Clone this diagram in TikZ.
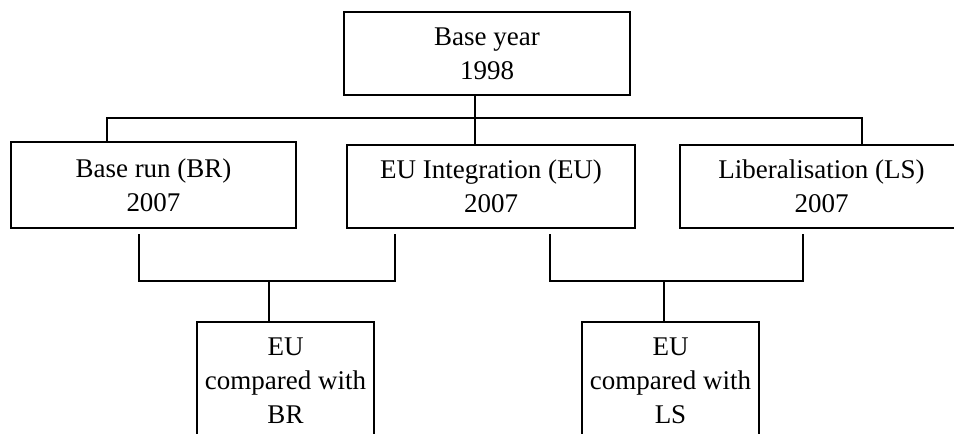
\documentclass[tikz,border=0pt]{standalone}
\usepackage{fontspec}
\setmainfont{Liberation Serif}
\begin{document}
\begin{tikzpicture}[x=1pt,y=-1pt,
  box/.style={draw=black,line width=2.5pt,rectangle,align=center,inner sep=0pt,
    font=\fontsize{27}{34}\selectfont},
  conn/.style={draw=black,line width=2.5pt}]
\useasboundingbox (0,0) rectangle (954,434);
\clip (0,0) rectangle (954,434);
\node[box,minimum width=286pt,minimum height=83pt] (top) at (487,53.5) {Base year\\1998};
\node[box,minimum width=285pt,minimum height=86pt] (br) at (153.5,185) {Base run (BR)\\2007};
\node[box,minimum width=288pt,minimum height=83pt] (eu) at (491,186.5) {EU Integration (EU)\\2007};
\node[box,minimum width=283pt,minimum height=83pt] (ls) at (821.5,186.5) {Liberalisation (LS)\\2007};
\node[box,minimum width=177pt,minimum height=118pt] (cbr) at (285.5,381) {EU\\compared with\\BR};
\node[box,minimum width=177pt,minimum height=118pt] (cls) at (670.5,381) {EU\\compared with\\LS};
\coordinate (busA) at (0,118);
\coordinate (busB) at (0,281);
% top connectors
\draw[conn] ([xshift=-12pt]top.south) -- ([xshift=-12pt]top.south |- eu.north);
\draw[conn] ([xshift=-46.5pt]br.north) -- ([xshift=-46.5pt]br.north |- busA)
  -- ([xshift=40.5pt]ls.north |- busA) -- ([xshift=40.5pt]ls.north);
% lower left
\draw[conn] ([xshift=-14.5pt,yshift=-5pt]br.south) -- ([xshift=-14.5pt]br.south |- busB)
  -- ([xshift=-96pt]eu.south |- busB) -- ([xshift=-96pt,yshift=-5pt]eu.south);
\draw[conn] ([xshift=-16.5pt]cbr.north |- busB) -- ([xshift=-16.5pt]cbr.north);
% lower right
\draw[conn] ([xshift=59pt,yshift=-5pt]eu.south) -- ([xshift=59pt]eu.south |- busB)
  -- ([xshift=-18.5pt]ls.south |- busB) -- ([xshift=-18.5pt,yshift=-5pt]ls.south);
\draw[conn] ([xshift=-6.5pt]cls.north |- busB) -- ([xshift=-6.5pt]cls.north);
\end{tikzpicture}
\end{document}
